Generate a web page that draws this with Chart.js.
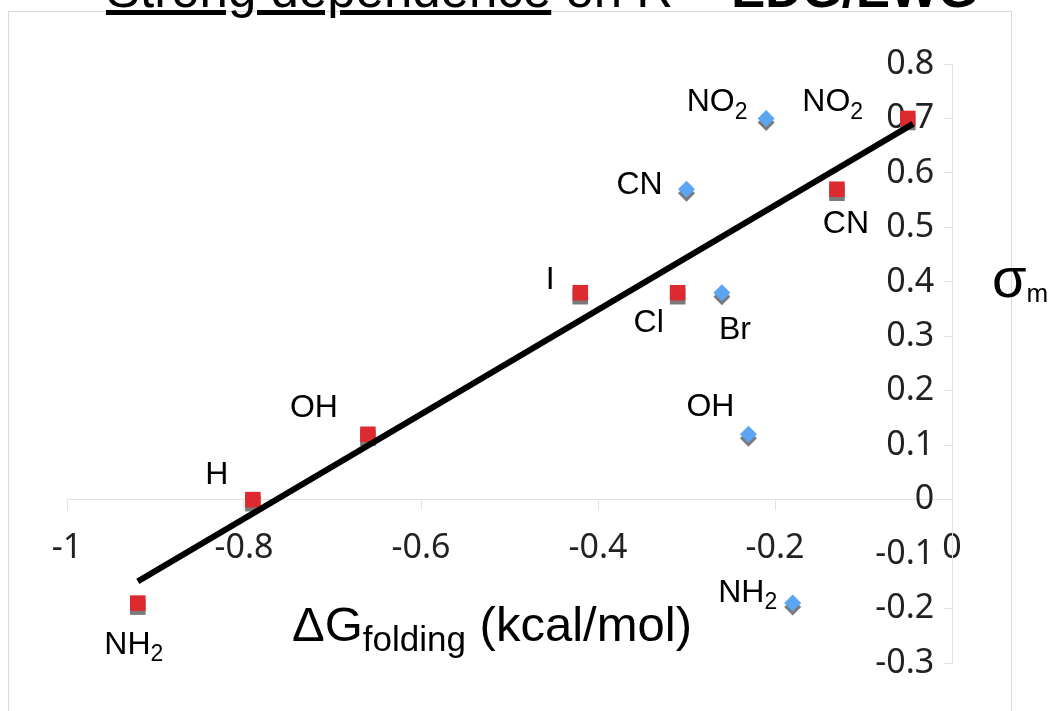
<!DOCTYPE html>
<html lang="en">
<head>
  <meta charset="UTF-8" />
  <title>Strong dependence on R = EDG/EWG</title>
  <script src="https://cdn.jsdelivr.net/npm/chart.js"></script>
  <style>
    html, body { margin: 0; padding: 0; background: #fff; overflow: hidden; }
    #wrap {
      position: relative; width: 1051px; height: 711px; overflow: hidden;
      font-family: "Liberation Sans", Arial, sans-serif; color: #000;
    }
    #frame {
      position: absolute; left: 8px; top: 11px; width: 1002px; height: 740px;
      border: 1px solid #d9d9d9;
    }
    canvas { position: absolute; left: 0; top: 0; }
    .txt { position: absolute; white-space: nowrap; }
    #title { left: 106px; top: -36px; font-size: 51px; line-height: 51px; }
    #xTitle { left: 292px; top: 600px; font-size: 49px; line-height: 49px; }
    #xTitle span { font-size: 35px; position: relative; top: 10px; }
    #yTitle { left: 992px; top: 250px; font-size: 56px; line-height: 56px; }
    #yTitle span { font-size: 26px; position: relative; top: 5px; }
  </style>
</head>
<body>
<div id="wrap">
  <div id="frame"></div>
  <canvas id="grafico" width="1051" height="711"></canvas>
  <div class="txt" id="title"><u>Strong dependence</u> on R = <b>EDG/EWG</b></div>
  <div class="txt" id="xTitle">ΔG<span>folding</span> (kcal/mol)</div>
  <div class="txt" id="yTitle">σ<span>m</span></div>
</div>

<script>
  // datos
  const redNames = ['NH2', 'H', 'OH', 'I', 'Cl', 'CN', 'NO2'];
  const redX = [-0.92, -0.79, -0.66, -0.42, -0.31, -0.13, -0.05];
  const redY = [-0.19, 0.00, 0.12, 0.38, 0.38, 0.57, 0.70];

  const blueNames = ['NO2', 'CN', 'Br', 'OH', 'NH2'];
  const blueX = [-0.21, -0.30, -0.26, -0.23, -0.18];
  const blueY = [0.70, 0.57, 0.38, 0.12, -0.19];

  const trendX = [-0.92, -0.044];
  const trendY = [-0.15, 0.69];

  const xTicks = [-1, -0.8, -0.6, -0.4, -0.2, 0];
  const yTicks = [-0.3, -0.2, -0.1, 0, 0.1, 0.2, 0.3, 0.4, 0.5, 0.6, 0.7, 0.8];

  // desplazamiento de cada etiqueta respecto a su punto (px)
  const redOffsets = [[-4, 42], [-36, -24], [-54, -26], [-30, -13], [-29, 30], [9, 35], [-75, -16]];
  const blueOffsets = [[-49, -16], [-47, -4], [13, 37], [-38, -27], [-45, -10]];

  const toPoints = (xs, ys) => xs.map((x, i) => ({ x: x, y: ys[i] }));

  // sombra gris bajo los marcadores
  const sombra = {
    id: 'sombra',
    beforeDatasetDraw(chart, args) {
      if (args.index === 0) return;
      const ctx = chart.ctx;
      ctx.save();
      ctx.shadowColor = 'rgba(115,115,115,0.95)';
      ctx.shadowOffsetY = 4;
      ctx.shadowBlur = 0;
    },
    afterDatasetDraw(chart, args) {
      if (args.index === 0) return;
      chart.ctx.restore();
    }
  };

  // etiquetas de los sustituyentes, con el 2 como subindice
  function drawLabel(ctx, name, cx, cy) {
    const m = name.match(/^(.*?)(\d*)$/);
    const main = m[1], sub = m[2];
    ctx.font = '32px "Liberation Sans", Arial, sans-serif';
    const mw = ctx.measureText(main).width;
    ctx.font = '23px "Liberation Sans", Arial, sans-serif';
    const sw = sub ? ctx.measureText(sub).width : 0;
    const x0 = cx - (mw + sw) / 2;
    ctx.textAlign = 'left';
    ctx.textBaseline = 'middle';
    ctx.fillStyle = '#000';
    ctx.font = '32px "Liberation Sans", Arial, sans-serif';
    ctx.fillText(main, x0, cy);
    if (sub) {
      ctx.font = '23px "Liberation Sans", Arial, sans-serif';
      ctx.fillText(sub, x0 + mw, cy + 10);
    }
  }

  const etiquetas = {
    id: 'etiquetas',
    afterDatasetsDraw(chart) {
      const ctx = chart.ctx;
      ctx.save();
      const sets = [[1, redNames, redOffsets], [2, blueNames, blueOffsets]];
      sets.forEach(([idx, names, offs]) => {
        chart.getDatasetMeta(idx).data.forEach((pt, i) => {
          drawLabel(ctx, names[i], pt.x + offs[i][0], pt.y + offs[i][1]);
        });
      });
      ctx.restore();
    }
  };

  const ejeGris = '#e2e2e2';
  const fuenteTicks = { family: 'Noto Sans', size: 34 };

  new Chart(document.getElementById('grafico'), {
    type: 'scatter',
    data: {
      datasets: [
        {
          type: 'line',
          label: 'Ajuste',
          data: toPoints(trendX, trendY),
          borderColor: '#000',
          borderWidth: 6,
          pointRadius: 0,
          fill: false
        },
        {
          label: 'Rojo',
          data: toPoints(redX, redY),
          pointStyle: 'rect',
          pointRadius: 11,
          pointBackgroundColor: '#dc2a30',
          pointBorderWidth: 0,
          pointBorderColor: '#dc2a30'
        },
        {
          label: 'Azul',
          data: toPoints(blueX, blueY),
          pointStyle: 'rectRot',
          pointRadius: 8.5,
          pointBackgroundColor: '#5aa6f4',
          pointBorderWidth: 0,
          pointBorderColor: '#5aa6f4'
        }
      ]
    },
    options: {
      responsive: false,
      animation: false,
      devicePixelRatio: 1,
      layout: { padding: { left: 67, right: 99, top: 64, bottom: 48 } },
      plugins: { legend: { display: false }, tooltip: { enabled: false } },
      scales: {
        x: {
          type: 'linear',
          min: -1,
          max: 0,
          position: { y: 0 },
          afterBuildTicks: s => { s.ticks = xTicks.map(v => ({ value: v })); },
          afterFit: s => { s.height = 0; },
          grid: { drawOnChartArea: false, drawTicks: true, tickLength: 10, color: ejeGris },
          border: { color: ejeGris, width: 1 },
          ticks: {
            padding: 18, color: '#222', font: fuenteTicks,
            maxRotation: 0, autoSkip: false, callback: v => String(v)
          }
        },
        y: {
          type: 'linear',
          min: -0.3,
          max: 0.8,
          position: { x: 0 },
          afterBuildTicks: s => { s.ticks = yTicks.map(v => ({ value: v })); },
          afterFit: s => { s.width = 0; },
          grid: { drawOnChartArea: false, drawTicks: true, tickLength: 8, color: ejeGris },
          border: { color: ejeGris, width: 1 },
          ticks: {
            padding: 10, color: '#222', font: fuenteTicks,
            autoSkip: false,
            // las etiquetas quedan pegadas al eje; los espacios las separan
            callback: v => String(v) + '  '
          }
        }
      }
    },
    plugins: [sombra, etiquetas]
  });
</script>
</body>
</html>
